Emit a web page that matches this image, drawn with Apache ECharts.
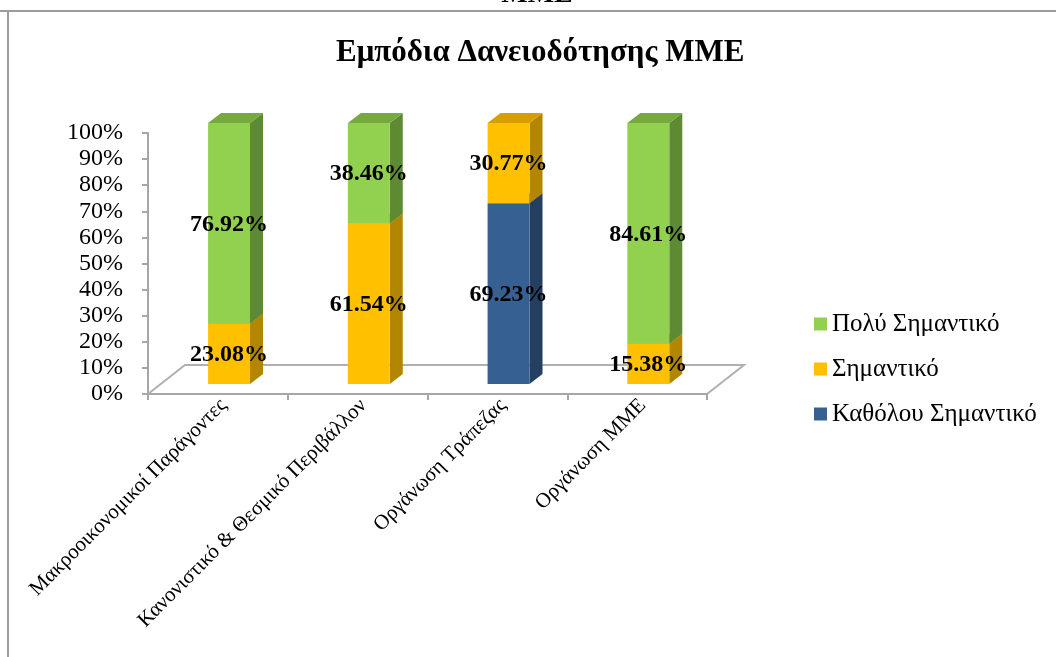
<!DOCTYPE html>
<html>
<head>
<meta charset="utf-8">
<script src="https://cdn.jsdelivr.net/npm/echarts@6/dist/echarts.min.js"></script>
<style>
html,body{margin:0;padding:0;background:#fff;}
#chart{width:1056px;height:657px;}
</style>
</head>
<body>
<div id="chart"></div>
<script>
const categories = ['Μακροοικονομικοί Παράγοντες', 'Κανονιστικό & Θεσμικό Περιβάλλον', 'Οργάνωση Τράπεζας', 'Οργάνωση ΜΜΕ'];
const notImportant = [0, 0, 69.23, 0];
const important = [23.08, 61.54, 30.77, 15.38];
const veryImportant = [76.92, 38.46, 0, 84.61];
const yTicks = [0, 10, 20, 30, 40, 50, 60, 70, 80, 90, 100];

const seriesDefs = [
  { name: 'Καθόλου Σημαντικό', values: notImportant, front: '#376092', side: '#243F5F', top: '#2D5079' },
  { name: 'Σημαντικό', values: important, front: '#FFC000', side: '#B38600', top: '#D4A000' },
  { name: 'Πολύ Σημαντικό', values: veryImportant, front: '#92D050', side: '#5E8A34', top: '#76AA40' }
];

const SERIF = '"Liberation Serif", "Times New Roman", serif';

const cumulative = categories.map(() => 0);
const barSeries = seriesDefs.map(def => {
  const data = def.values.map((v, i) => {
    const start = cumulative[i];
    const end = start + v;
    cumulative[i] = end;
    return [i, start, end, v];
  });
  return {
    type: 'custom',
    name: def.name,
    itemStyle: { color: def.front },
    encode: { x: 0, y: [1, 2] },
    z: 3,
    data: data,
    renderItem: function (params, api) {
      const v = api.value(3);
      if (!v) return null;
      const idx = api.value(0);
      const pb = api.coord([idx, api.value(1)]);
      const pt = api.coord([idx, api.value(2)]);
      const band = api.size([1, 0])[0];
      const w = band * 0.30;
      const shiftX = band * 0.08, shiftY = 10;
      const dx = 13, dy = 10;
      const cx = pb[0] + shiftX;
      const l = cx - w / 2, r = cx + w / 2;
      const yb = pb[1] - shiftY, yt = pt[1] - shiftY;
      return {
        type: 'group',
        children: [
          { type: 'polygon', shape: { points: [[r, yb], [r + dx, yb - dy], [r + dx, yt - dy], [r, yt]] }, style: { fill: def.side } },
          { type: 'polygon', shape: { points: [[l, yt], [r, yt], [r + dx, yt - dy], [l + dx, yt - dy]] }, style: { fill: def.top } },
          { type: 'rect', shape: { x: l, y: yt, width: w, height: yb - yt }, style: { fill: def.front } },
          { type: 'text', z2: 10, style: { text: v.toFixed(2) + '%', x: cx, y: (yb + yt) / 2 + 1, align: 'center', verticalAlign: 'middle', font: 'bold 24px ' + SERIF, fill: '#000' } }
        ]
      };
    }
  };
});

const floorSeries = {
  type: 'custom',
  name: 'floor',
  silent: true,
  z: 1,
  data: [[0, 0]],
  renderItem: function (params, api) {
    const band = api.size([1, 0])[0];
    const p0 = api.coord([0, 0]);
    const p1 = api.coord([categories.length - 1, 0]);
    const left = p0[0] - band / 2, right = p1[0] + band / 2, y = p0[1];
    const ddx = 37, ddy = 29;
    return {
      type: 'polyline',
      shape: { points: [[left, y], [left + ddx, y - ddy], [right + ddx, y - ddy], [right, y]] },
      style: { stroke: '#B0B0B0', lineWidth: 2, fill: null }
    };
  }
};

const chart = echarts.init(document.getElementById('chart'), null, { renderer: 'canvas' });
chart.setOption({
  animation: false,
  backgroundColor: '#fff',
  title: {
    text: 'Εμπόδια Δανειοδότησης ΜΜΕ',
    left: 331, top: 32,
    textStyle: { fontFamily: SERIF, fontWeight: 'bold', fontSize: 31, color: '#000' }
  },
  graphic: [
    { type: 'line', shape: { x1: 0, y1: 11, x2: 1056, y2: 11 }, style: { stroke: '#9C9C9C', lineWidth: 2 } },
    { type: 'line', shape: { x1: 8, y1: 11, x2: 8, y2: 657 }, style: { stroke: '#9C9C9C', lineWidth: 2 } },
    { type: 'text', style: { text: 'ΜΜΕ', x: 537, y: -5.5, align: 'center', verticalAlign: 'middle', font: 'bold 28px ' + SERIF, fill: '#000' } }
  ],
  legend: {
    orient: 'vertical',
    left: 809, top: 306,
    itemWidth: 13, itemHeight: 13, itemGap: 19,
    icon: 'rect',
    data: ['Πολύ Σημαντικό', 'Σημαντικό', 'Καθόλου Σημαντικό'],
    textStyle: { fontFamily: SERIF, fontSize: 25, color: '#000', lineHeight: 26 }
  },
  grid: { left: 148, right: 349, top: 133, bottom: 263, containLabel: false },
  xAxis: {
    type: 'category',
    data: categories,
    boundaryGap: true,
    axisLine: { lineStyle: { color: '#A6A6A6', width: 2 } },
    axisTick: { show: true, length: 6, lineStyle: { color: '#A6A6A6', width: 2 } },
    axisLabel: { rotate: 45, margin: 14, interval: 0, padding: [0, -8, 0, 0], fontFamily: SERIF, fontSize: 21, color: '#000' },
    splitLine: { show: false }
  },
  yAxis: {
    type: 'value',
    min: yTicks[0], max: yTicks[yTicks.length - 1], interval: yTicks[1] - yTicks[0],
    axisLine: { show: true, lineStyle: { color: '#A6A6A6', width: 2 } },
    axisTick: { show: true, length: 6, lineStyle: { color: '#A6A6A6', width: 2 } },
    axisLabel: { formatter: '{value}%', margin: 25, fontFamily: SERIF, fontSize: 24, color: '#000' },
    splitLine: { show: false }
  },
  series: [floorSeries].concat(barSeries)
});
</script>
</body>
</html>
